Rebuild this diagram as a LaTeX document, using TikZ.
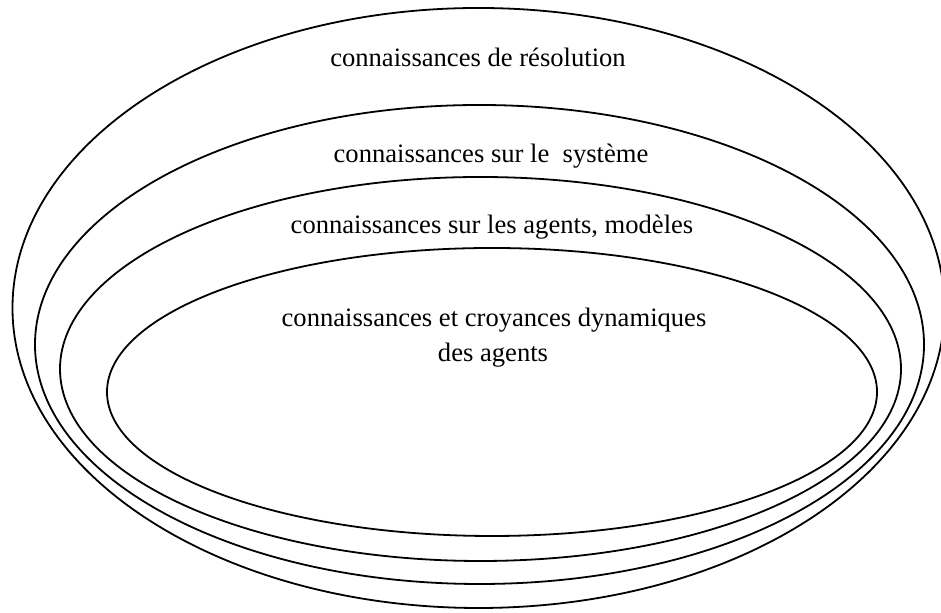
\documentclass[tikz,border=0pt]{standalone}
\usepackage{fontspec}
\setmainfont{Liberation Serif}
\begin{document}
\begin{tikzpicture}[x=0.5pt, y=0.5pt, line width=0.9pt]
        \useasboundingbox (0,0) rectangle (941,613);
        \clip (0,0) rectangle (941,613);
        \coordinate (C_res) at (478.5,305);   % centre of the outer ellipse
        \coordinate (C_sys) at (479.5,268.5);
        \coordinate (C_mod) at (480.5,244);
        \coordinate (C_dyn) at (492,221);     % centre of the inner ellipse
        \draw (C_res) ellipse [x radius=466, y radius=300];
        \draw (C_sys) ellipse [x radius=444.5, y radius=239.5];
        \draw (C_mod) ellipse [x radius=420.5, y radius=192];
        \draw (C_dyn) ellipse [x radius=385, y radius=144];
        \node[anchor=base] (res) at (478,546.5) {\fontsize{13.3}{16}\selectfont connaissances de r\'esolution};
        \node[anchor=base] (sys) at (491,450.5) {\fontsize{13.3}{16}\selectfont connaissances sur le \ syst\`eme};
        \node[anchor=base] (mod) at (492,379) {\fontsize{13.3}{16}\selectfont connaissances sur les agents, mod\`eles};
        \node[anchor=base] (dyn) at (494,286) {\fontsize{13.3}{16}\selectfont connaissances et croyances dynamiques};
        \node[anchor=base] (dyn2) at (493,251) {\fontsize{13.3}{16}\selectfont des agents};
    \end{tikzpicture}
\end{document}
